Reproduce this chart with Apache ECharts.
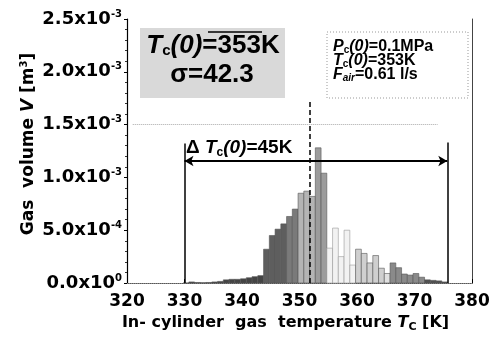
<!DOCTYPE html>
<html><head><meta charset="utf-8">
<script src="https://cdn.jsdelivr.net/npm/echarts@6/dist/echarts.min.js"></script>
<style>html,body{margin:0;padding:0;background:#fff}#c{width:500px;height:339px}</style>
</head><body><div id="c"></div>
<script>
// histogram bins: lower edge of each 1 K bin [K]
const binStart = [329.75,330.75,331.75,332.75,333.75,334.75,335.75,336.75,337.75,338.75,
  339.75,340.75,341.75,342.75,343.75,344.75,345.75,346.75,347.75,348.75,
  349.75,350.75,351.75,352.75,353.75,354.75,355.75,356.75,357.75,358.75,
  359.75,360.75,361.75,362.75,363.75,364.75,365.75,366.75,367.75,368.75,
  369.75,370.75,371.75,372.75,373.75,374.75];
// gas volume per bin, in units of 1e-4 m^3
const gasVolume = [0.0,0.1,0.05,0.03,0.05,0.1,0.15,0.3,0.35,0.35,
  0.4,0.5,0.6,0.7,3.2,4.5,5.1,5.6,6.3,7.0,
  8.5,8.7,8.2,12.8,10.4,3.3,5.2,2.5,5.0,1.7,
  3.2,2.8,1.9,2.6,1.4,0.9,1.9,1.45,0.85,0.75,
  0.9,0.55,0.3,0.25,0.2,0.1];
const binWidth = 1;
const xTickValues = [320,330,340,350,360,370,380];
const yTickValues = [0,5,10,15,20,25];
const yTickLabels = ['0.0x10{s|0}','5.0x10{s|-4}','1.0x10{s|-3}','1.5x10{s|-3}','2.0x10{s|-3}','2.5x10{s|-3}'];
const meanTemp = 351.8;      // dashed line
const rangeLow = 330, rangeHigh = 375.7; // ΔTc(0) = 45 K
const arrowLevel = 11.55;
const gridLevel = 15;

function shade(t){
  if (t < 343.5) return '#444';
  if (t < 347.5) return '#5e5e5e';
  if (t < 349.5) return '#7a7a7a';
  if (t < 352.5) return '#b4b4b4';
  if (t < 354.5) return '#9c9c9c';
  if (t < 359.5) return '#f2f2f2';
  if (t < 364.5) return '#cfcfcf';
  if (t < 365.5) return '#e0e0e0';
  if (t < 371.5) return '#8a8a8a';
  return '#505050';
}

const F = 'DejaVu Sans';
const A = 'Liberation Sans';
function boxText(x, y, txt, size){
  return {type:'text',x:x,y:y,z:5,style:{text:txt,verticalAlign:'middle',
    fontFamily:A,fontWeight:'bold',fontSize:size,fill:'#000',
    rich:{i:{fontFamily:A,fontWeight:'bold',fontStyle:'italic',fontSize:size,fill:'#000'},
          sub:{fontFamily:A,fontWeight:'bold',fontSize:Math.round(size*0.62),fill:'#000',padding:[Math.round(size*0.45),0,0,0]},
          subi:{fontFamily:A,fontWeight:'bold',fontStyle:'italic',fontSize:Math.round(size*0.62),fill:'#000',padding:[Math.round(size*0.45),0,0,0]}}}};
}
const chart = echarts.init(document.getElementById('c'));
chart.setOption({
  animation:false,
  backgroundColor:'#fff',
  grid:{left:127,right:28,top:19,bottom:56},
  xAxis:[{
    type:'value',min:320,max:380,interval:10,
    axisLine:{lineStyle:{color:'#000',width:1.2}},
    axisTick:{inside:true,length:4,lineStyle:{color:'#000'}},
    minorTick:{show:false},
    splitLine:{show:false},
    axisLabel:{margin:10,color:'#000',fontFamily:F,fontWeight:'bold',fontSize:17,
      formatter:v=>xTickValues.indexOf(v)>=0?String(v):''},
    name:'In- cylinder  gas  temperature {i|T}{sub|C} [K]',
    nameLocation:'middle',nameGap:30,
    nameTextStyle:{color:'#000',fontFamily:F,fontWeight:'bold',fontSize:16,padding:[0,28,0,0],
      rich:{i:{fontFamily:F,fontWeight:'bold',fontStyle:'italic',fontSize:16,color:'#000'},
            sub:{fontFamily:F,fontWeight:'bold',fontSize:11,color:'#000',verticalAlign:'bottom',padding:[8,0,0,0]}}}
  },{
    type:'value',position:'top',min:320,max:380,
    axisLine:{show:true,lineStyle:{color:'#888',type:'dotted',width:1}},
    axisTick:{show:false},axisLabel:{show:false},splitLine:{show:false}
  }],
  yAxis:[{
    type:'value',min:0,max:25,interval:5,
    axisLine:{show:true,lineStyle:{color:'#000',width:1.2}},
    axisTick:{show:true,length:3,lineStyle:{color:'#000'}},
    minorTick:{show:true,splitNumber:5,length:2,lineStyle:{color:'#333'}},
    splitLine:{show:false},
    axisLabel:{margin:5,color:'#000',fontFamily:F,fontWeight:'bold',fontSize:18,
      formatter:(v)=>{const k=yTickValues.indexOf(v);return k>=0?yTickLabels[k]:'';},
      rich:{s:{fontFamily:F,fontWeight:'bold',fontSize:10,color:'#000',verticalAlign:'top',padding:[0,0,10,0]}}},
    name:'Gas  volume {i|V} [m{s|3}]',
    nameLocation:'middle',nameGap:88,nameRotate:90,nameMoveOverlap:false,
    nameTextStyle:{color:'#000',fontFamily:F,fontWeight:'bold',fontSize:17,padding:[0,0,0,14],
      rich:{i:{fontFamily:F,fontWeight:'bold',fontStyle:'italic',fontSize:17,color:'#000'},
            s:{fontFamily:F,fontWeight:'bold',fontSize:10,color:'#000',padding:[0,0,10,0]}}}
  },{
    type:'value',position:'right',min:0,max:25,
    axisLine:{show:true,lineStyle:{color:'#444',width:1}},
    axisTick:{show:false},axisLabel:{show:false},splitLine:{show:false}
  }],
  series:[{
    type:'custom',
    data:binStart.map((s,i)=>[s,gasVolume[i]]),
    renderItem:(params,api)=>{
      const s=api.value(0), h=api.value(1);
      const p0=api.coord([s,0]), p1=api.coord([s+binWidth,h]);
      const c=shade(s+0.5);
      return {type:'rect',shape:{x:p0[0],y:p1[1],width:p1[0]-p0[0],height:p0[1]-p1[1]},
        style:{fill:c,stroke:(c==='#f2f2f2'?'#999':'#555'),lineWidth:0.6}};
    },
    z:2
  },{
    type:'line',data:[],symbol:'none',silent:true,
    markLine:{silent:true,symbol:'none',label:{show:false},
      data:[
        [{coord:[meanTemp,0],lineStyle:{type:[5,3],color:'#000',width:1.5}},{coord:[meanTemp,17.4]}],
        [{coord:[rangeLow,0],lineStyle:{type:'solid',color:'#000',width:1.5}},{coord:[rangeLow,13.2]}],
        [{coord:[rangeHigh,0],lineStyle:{type:'solid',color:'#000',width:1.5}},{coord:[rangeHigh,13.3]}],
        [{coord:[321,gridLevel],lineStyle:{type:'dotted',color:'#aaa',width:1}},{coord:[374,gridLevel]}]
      ]},
    z:3
  },{
    type:'line',data:[],symbol:'none',silent:true,
    markLine:{silent:true,symbol:['arrow','arrow'],symbolSize:[8,9],label:{show:false},
      lineStyle:{type:'solid',color:'#000',width:2},
      data:[[{coord:[rangeLow,arrowLevel]},{coord:[rangeHigh,arrowLevel]}]]},
    z:4
  }],
  graphic:[
    {type:'rect',shape:{x:140,y:28,width:145,height:70},style:{fill:'#d9d9d9'},z:1},
    {type:'line',shape:{x1:208,y1:32,x2:262,y2:32},style:{stroke:'#000',lineWidth:1.5},z:5},
    {type:'text',x:213,y:46,z:5,style:{
      text:'{i|T}{sub|c}{i|(0)}=353K',align:'center',verticalAlign:'middle',
      fontFamily:A,fontWeight:'bold',fontSize:26,fill:'#000',
      rich:{i:{fontFamily:A,fontWeight:'bold',fontStyle:'italic',fontSize:26,fill:'#000'},
            sub:{fontFamily:A,fontWeight:'bold',fontSize:15,fill:'#000',padding:[10,0,0,0]}}}},
    {type:'text',x:212,y:75,z:5,style:{text:'σ=42.3',align:'center',verticalAlign:'middle',
      fontFamily:A,fontWeight:'bold',fontSize:26,fill:'#000'}},
    {type:'rect',shape:{x:327,y:32,width:141,height:66},style:{fill:'#fff',stroke:'#999',lineWidth:1,lineDash:[1,2]},z:1},
    boxText(333,47,'{i|P}{sub|c}{i|(0)}=0.1MPa',16),
    boxText(333,61,'{i|T}{sub|c}{i|(0)}=353K',16),
    boxText(333,75,'{i|F}{subi|air}=0.61 l/s',16),
    boxText(186,148,'Δ {i|T}{sub|c}{i|(0)}=45K',19)
  ]
});
</script></body></html>
